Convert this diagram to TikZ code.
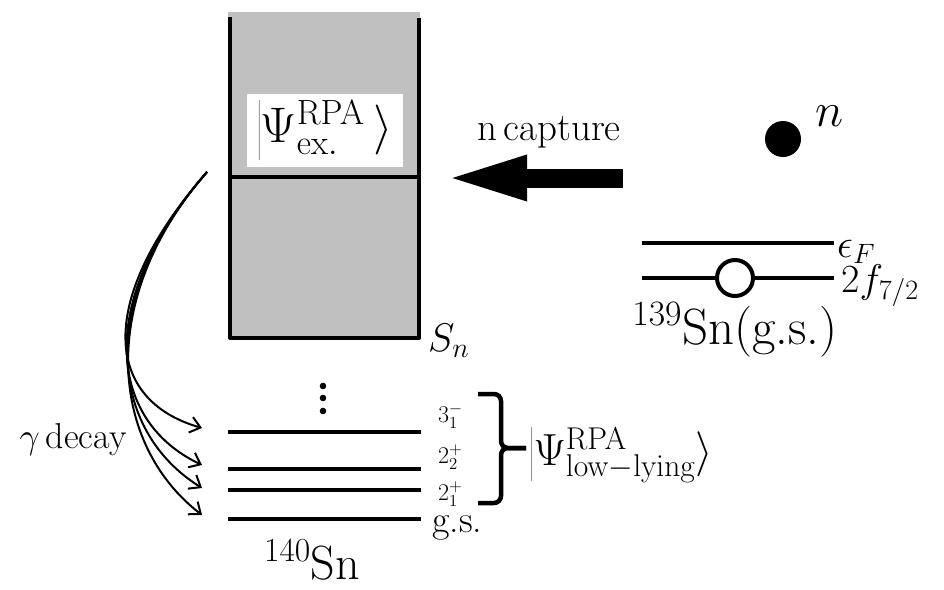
\documentclass[tikz,border=0pt]{standalone}
\usepackage{fix-cm}
\usetikzlibrary{arrows.meta}
\definecolor{boxgray}{RGB}{192,192,192}

\begin{document}
\begin{tikzpicture}[x=1pt,y=-1pt,line join=round,
  level/.style={line width=4.5pt},
  decay/.style={line width=2pt,-{Straight Barb[length=10pt,width=16pt]}},
  lvllab/.style={anchor=west,inner sep=0pt,font=\fontsize{24}{26}\selectfont}]
  \path[use as bounding box] (0,0) rectangle (944,589);

  % excited region above S_n
  \fill[boxgray] (228,12) rectangle (420,338);
  \draw[line width=4pt] (230,17) -- (230,338) -- (419,338) -- (419,18);
  \draw[line width=4pt] (230,177) -- (419,177);
  \node[fill=white,minimum width=156pt,minimum height=73pt,inner sep=0pt,
    font=\fontsize{50}{54}\selectfont] (exlab) at (325,130)
    {$\left|\Psi^{\mathrm{RPA}}_{\mathrm{ex.}}\,\right\rangle$};
  \node[anchor=west,inner sep=0pt,font=\fontsize{40}{44}\selectfont] (sn) at (428,341) {$S_n$};

  % low-lying levels of 140Sn
  \coordinate (l31) at (228,432);
  \coordinate (l22) at (228,469);
  \coordinate (l21) at (228,490);
  \coordinate (lgs) at (228,519);
  \foreach \c in {l31,l22,l21,lgs}
    \draw[level] (\c) -- ++(193,0);
  \foreach \y in {386,398,411}
    \fill (323,\y) circle (3.3);

  \node[lvllab] (t31) at (438,416) {$3^-_1$};
  \node[lvllab] (t22) at (438,457) {$2^+_2$};
  \node[lvllab] (t21) at (438,494) {$2^+_1$};
  \node[anchor=west,inner sep=0pt,font=\fontsize{38}{40}\selectfont] (tgs) at (432,528) {g.s.};
  \node[anchor=base,inner sep=0pt,font=\fontsize{48}{52}\selectfont] (sn140) at (312,579) {$^{140}$Sn};

  % brace over the RPA states
  \coordinate (brtop) at (478,394);
  \coordinate (brbot) at (478,503);
  \coordinate (brtip) at (526,448);
  \draw[line width=4.5pt,rounded corners=7pt] (brtop) -- (501,394) -- (501,448) -- (brtip);
  \draw[line width=4.5pt,rounded corners=7pt] (brbot) -- (501,503) -- (501,448) -- (brtip);
  \node[anchor=west,inner sep=0pt,font=\fontsize{45}{49}\selectfont] (lowlab) at (530,455)
    {$\left|\Psi^{\mathrm{RPA}}_{\mathrm{low-lying}}\right\rangle$};

  % gamma decay
  \coordinate (exc) at (207,172);
  \draw[decay] (exc) .. controls (95,300) and (104,400) .. ([shift={(-26,-4)}]l31);
  \draw[decay] (exc) .. controls (95,300) and (107,420) .. ([shift={(-26,-4)}]l22);
  \draw[decay] (exc) .. controls (95,300) and (109,430) .. ([shift={(-26,-2)}]l21);
  \draw[decay] (exc) .. controls (95,300) and (111,445) .. ([shift={(-26,-4)}]lgs);
  \node[anchor=base,inner sep=0pt,font=\fontsize{36}{38}\selectfont] (gam) at (73,448) {$\gamma$\,decay};

  % neutron capture
  \coordinate (capfrom) at (623,178);
  \coordinate (capto) at (443,178);
  \draw[line width=19pt,-{Triangle[length=84pt,width=40pt]}] (capfrom) -- (capto);
  \node[anchor=base,inner sep=0pt,font=\fontsize{39}{42}\selectfont] (cap) at (549,140) {n\,capture};

  % 139Sn ground state and neutron
  \node[circle,fill,minimum size=36pt,inner sep=0pt] (neut) at (783,139) {};
  \node[anchor=west,inner sep=0pt,font=\fontsize{48}{52}\selectfont] (nlab) at (815,116) {$n$};
  \coordinate (ef) at (642,243);
  \coordinate (f72) at (642,278);
  \draw[level] (ef) -- ++(192,0);
  \draw[level] (f72) -- ++(192,0);
  \node[circle,draw,fill=white,line width=4pt,minimum size=36pt,inner sep=0pt] (hole) at (735,278) {};
  \node[anchor=base west,inner sep=0pt,font=\fontsize{40}{44}\selectfont] (eflab) at (837,257) {$\epsilon_F$};
  \node[anchor=base west,inner sep=0pt,font=\fontsize{40}{44}\selectfont] (f72lab) at (841,292) {$2f_{7/2}$};
  \node[anchor=base,inner sep=0pt,font=\fontsize{51}{55}\selectfont] (sn139) at (735,344) {$^{139}$Sn(g.s.)};
\end{tikzpicture}
\end{document}
